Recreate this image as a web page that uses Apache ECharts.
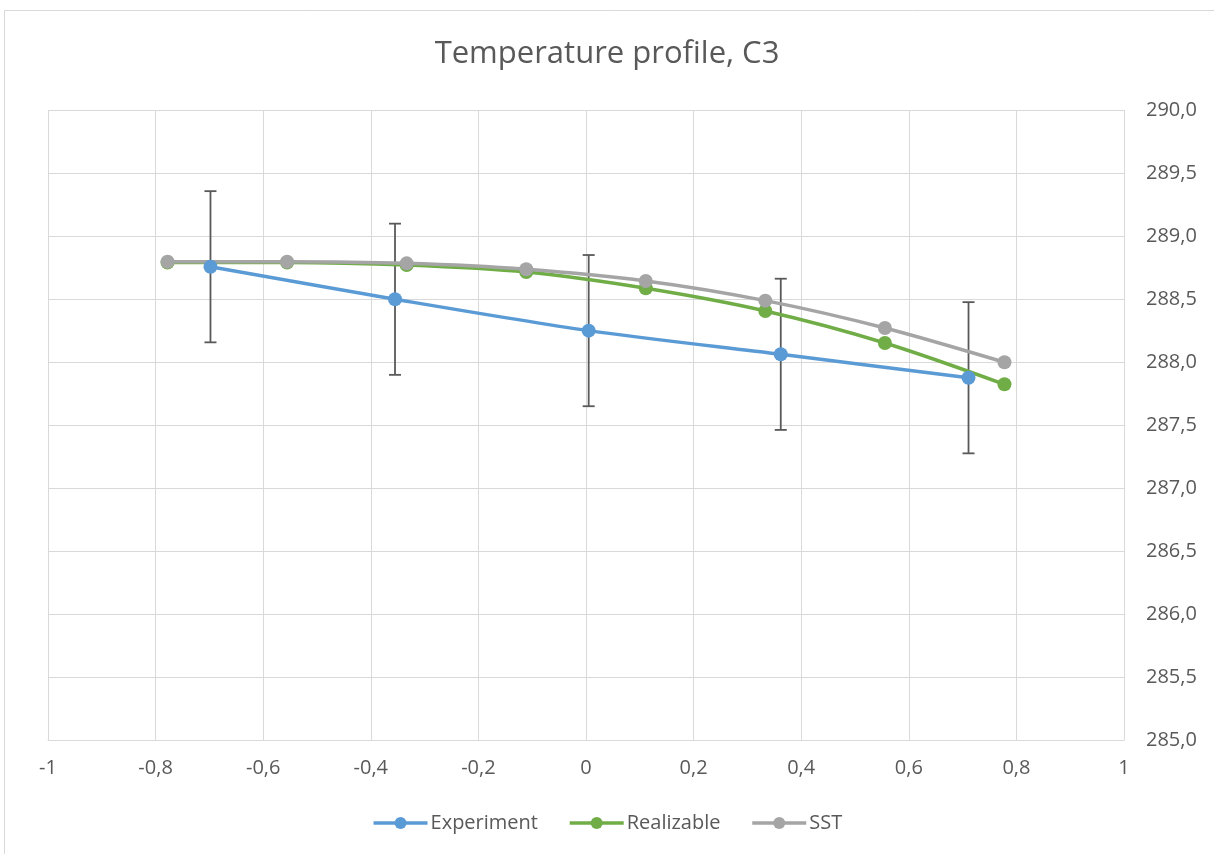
<!DOCTYPE html>
<html>
<head>
<meta charset="utf-8">
<script src="https://cdn.jsdelivr.net/npm/echarts@6/dist/echarts.min.js"></script>
<style>
html,body{margin:0;padding:0;background:#fff;}
#main{width:1214px;height:854px;}
</style>
</head>
<body>
<div id="main"></div>
<script>
// ---- Data ----
const expX = [-0.698, -0.355, 0.005, 0.362, 0.711];
const expY = [288.756, 288.498, 288.249, 288.061, 287.875];
const expErr = [0.6, 0.6, 0.6, 0.6, 0.6];

const modelX = [-0.7778, -0.5556, -0.3333, -0.1111, 0.1111, 0.3333, 0.5556, 0.7778];
const realizableY = [288.79, 288.79, 288.77, 288.714, 288.585, 288.405, 288.151, 287.823];
const sstY = [288.796, 288.796, 288.783, 288.736, 288.643, 288.487, 288.270, 287.998];

const seriesNames = ['Experiment', 'Realizable', 'SST'];
const titleText = 'Temperature profile, C3';

const pairs = (xs, ys) => xs.map((x, i) => [x, ys[i]]);
const errData = expX.map((x, i) => [x, expY[i] - expErr[i], expY[i] + expErr[i]]);

const fmt = v => String(Math.round(v * 10) / 10).replace('.', ',');
const fmtY = v => (Math.round(v * 10) / 10).toFixed(1).replace('.', ',');

const FONT = 'Open Sans';
const TXT = '#595959';
const GRID = '#d9d9d9';

const chart = echarts.init(document.getElementById('main'));
chart.setOption({
  backgroundColor: '#fff',
  animation: false,
  title: {
    text: titleText,
    left: 'center',
    top: 34,
    textStyle: { fontFamily: FONT, fontSize: 31, fontWeight: 'normal', color: TXT }
  },
  graphic: [{
    type: 'rect',
    shape: { x: 4.5, y: 10.5, width: 1230, height: 870 },
    style: { fill: 'none', stroke: GRID, lineWidth: 1 },
    silent: true, z: -1
  }],
  legend: {
    data: seriesNames,
    bottom: 16,
    left: 'center',
    itemWidth: 54,
    itemHeight: 15,
    itemGap: 30,
    lineStyle: { width: 3.5 },
    textStyle: { fontFamily: FONT, fontSize: 20, color: TXT, padding: [0, 0, 0, -2] }
  },
  grid: { left: 48, right: 90, top: 110, bottom: 114 },
  xAxis: {
    type: 'value', min: -1, max: 1, interval: 0.2,
    axisLine: { show: true, lineStyle: { color: GRID, width: 1 } },
    axisTick: { show: false },
    splitLine: { show: true, lineStyle: { color: GRID, width: 1 } },
    axisLabel: { formatter: fmt, fontFamily: FONT, fontSize: 20, color: TXT, margin: 18 }
  },
  yAxis: {
    type: 'value', position: 'right', min: 285, max: 290, interval: 0.5,
    axisLine: { show: false },
    axisTick: { show: false },
    splitLine: { show: true, lineStyle: { color: GRID, width: 1 } },
    axisLabel: { formatter: fmtY, fontFamily: FONT, fontSize: 20, color: TXT, margin: 22 }
  },
  series: [
    {
      name: 'errorbars',
      type: 'custom',
      z: 1,
      data: errData,
      renderItem: function (params, api) {
        const x = api.value(0);
        const lo = api.coord([x, api.value(1)]);
        const hi = api.coord([x, api.value(2)]);
        const w = 6;
        const st = { stroke: '#595959', lineWidth: 1.8 };
        return {
          type: 'group',
          children: [
            { type: 'line', shape: { x1: hi[0], y1: hi[1], x2: lo[0], y2: lo[1] }, style: st },
            { type: 'line', shape: { x1: hi[0] - w, y1: hi[1], x2: hi[0] + w, y2: hi[1] }, style: st },
            { type: 'line', shape: { x1: lo[0] - w, y1: lo[1], x2: lo[0] + w, y2: lo[1] }, style: st }
          ]
        };
      }
    },
    {
      name: seriesNames[2], type: 'line', z: 3, data: pairs(modelX, sstY),
      smooth: 0.3, symbol: 'circle', symbolSize: 14,
      lineStyle: { color: '#A5A5A5', width: 3.5 }, itemStyle: { color: '#A5A5A5' }
    },
    {
      name: seriesNames[1], type: 'line', z: 2, data: pairs(modelX, realizableY),
      smooth: 0.3, symbol: 'circle', symbolSize: 14,
      lineStyle: { color: '#70AD47', width: 3.5 }, itemStyle: { color: '#70AD47' }
    },
    {
      name: seriesNames[0], type: 'line', z: 4, data: pairs(expX, expY),
      smooth: 0.3, symbol: 'circle', symbolSize: 14,
      lineStyle: { color: '#5B9BD5', width: 3.5 }, itemStyle: { color: '#5B9BD5' }
    }
  ]
});
</script>
</body>
</html>
